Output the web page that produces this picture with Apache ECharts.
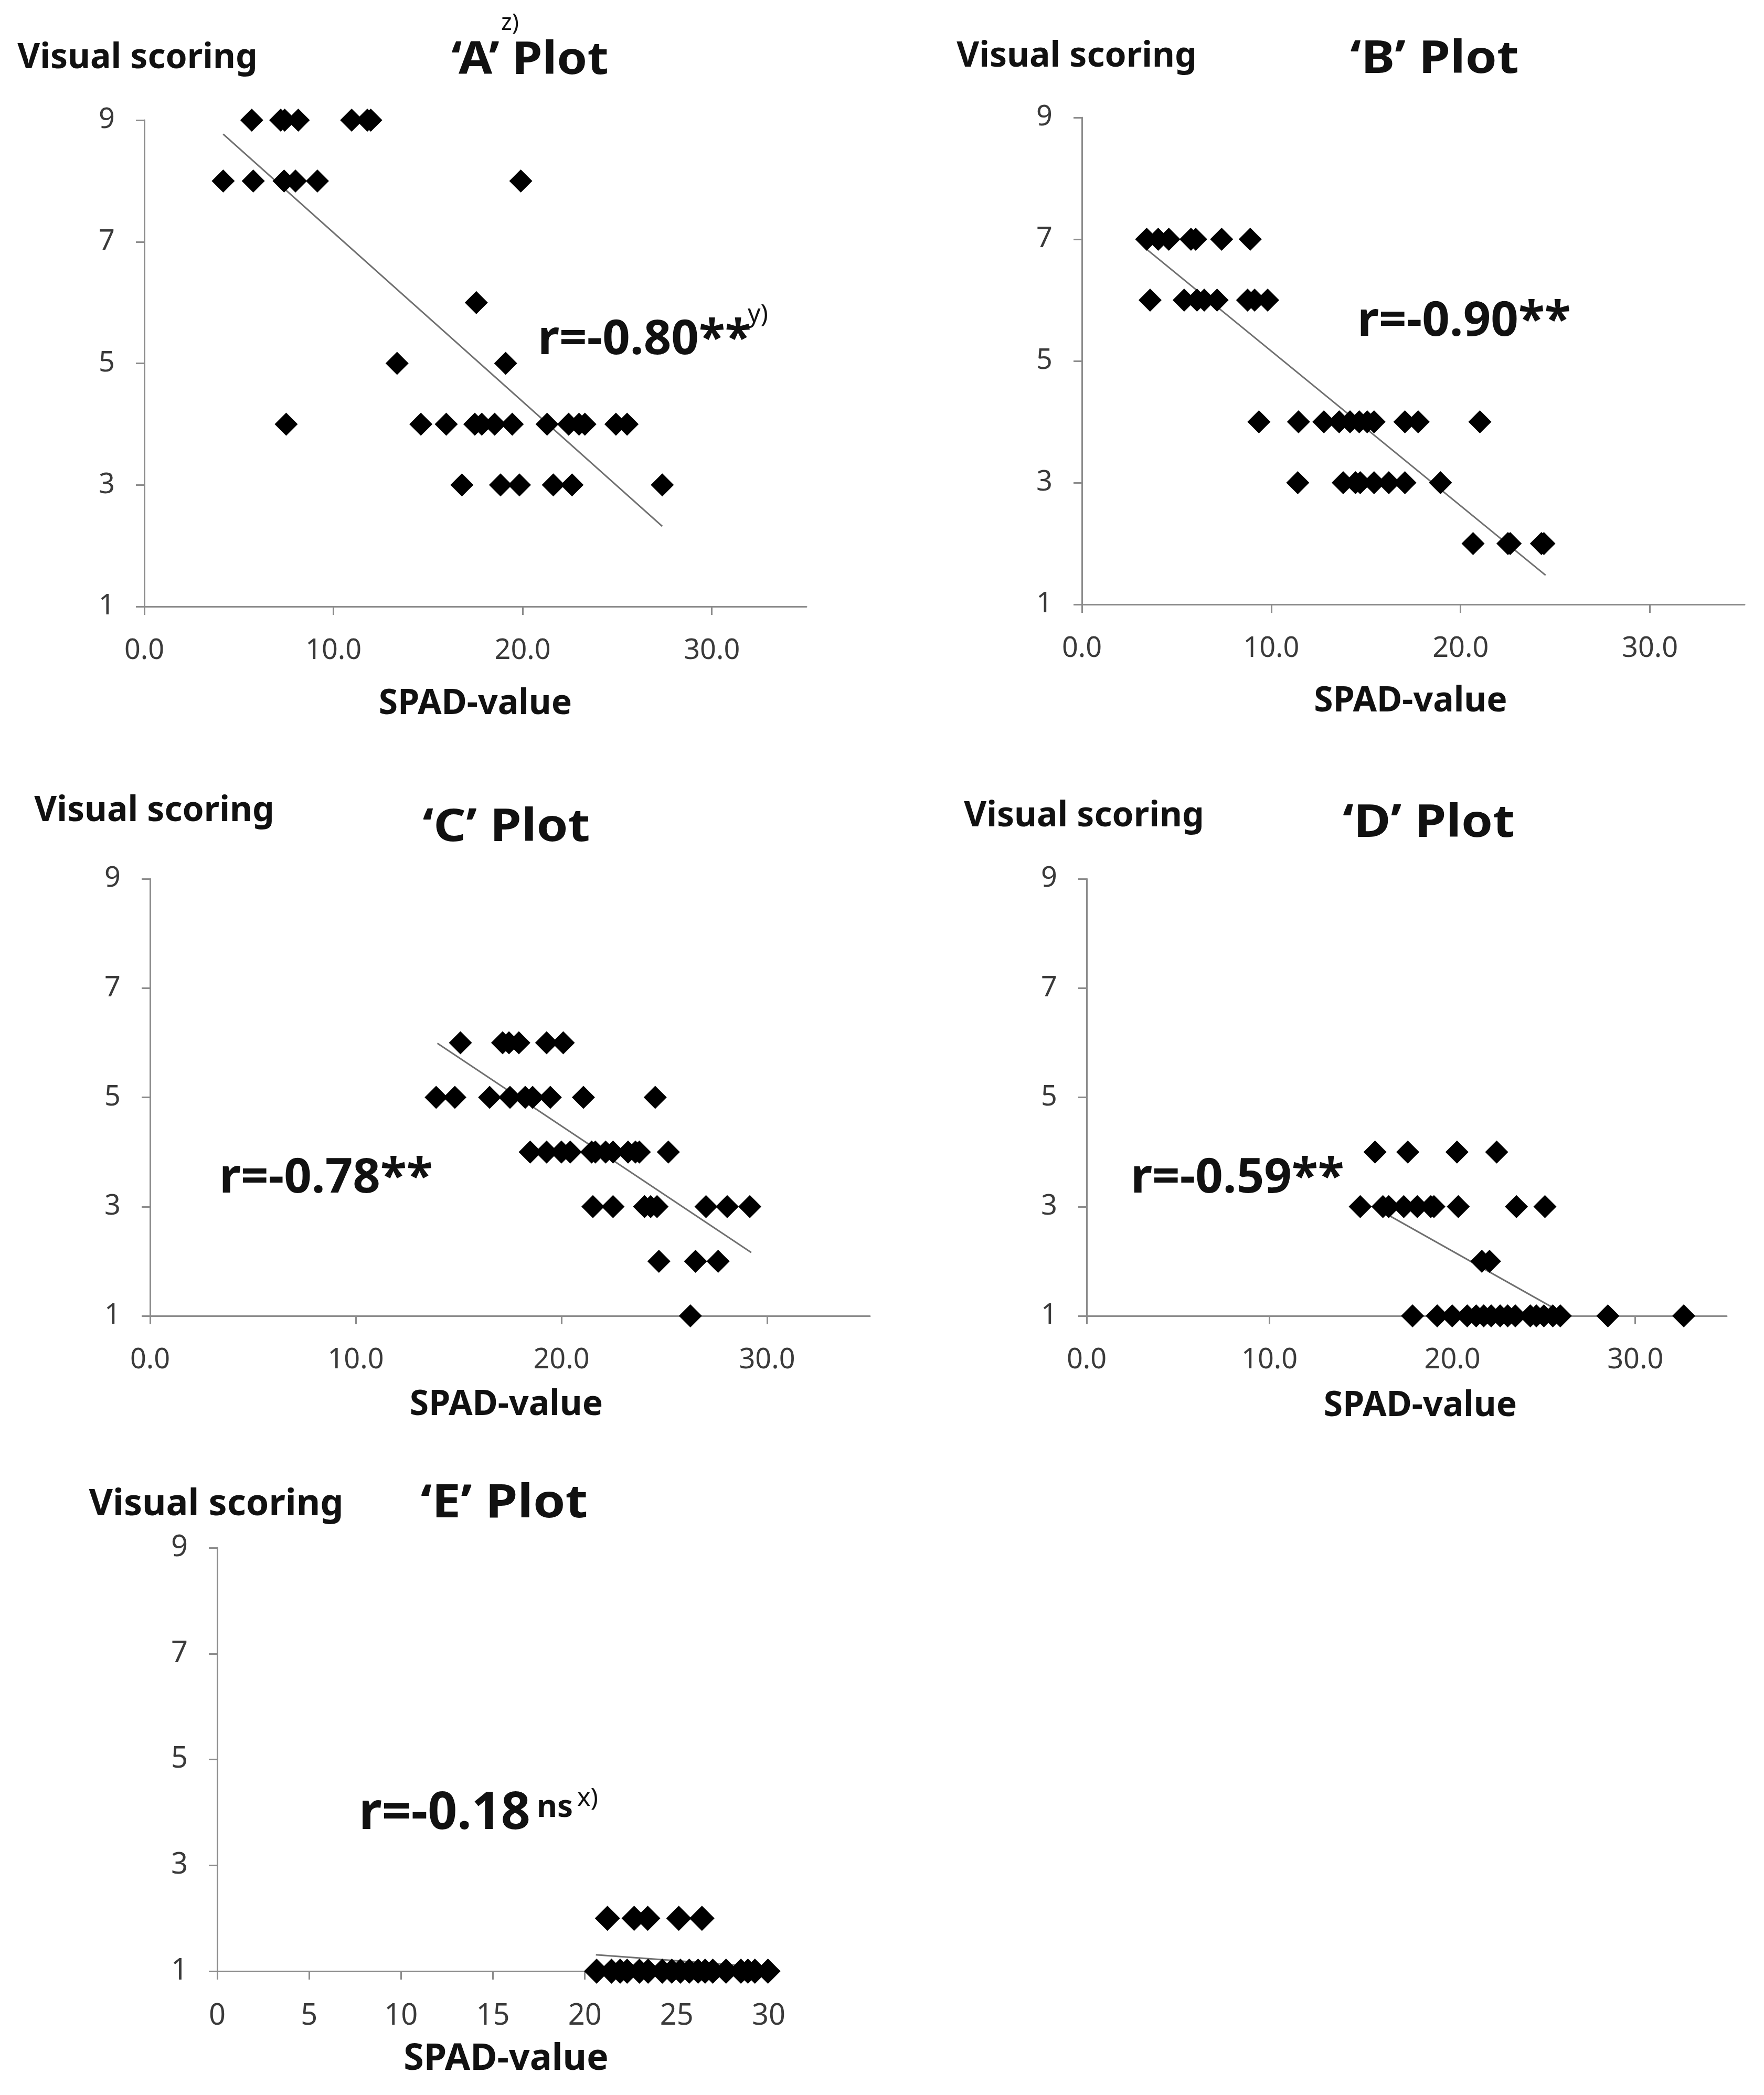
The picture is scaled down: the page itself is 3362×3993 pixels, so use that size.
<!DOCTYPE html>
<html>
<head>
<meta charset="utf-8">
<script src="https://cdn.jsdelivr.net/npm/echarts@6/dist/echarts.min.js"></script>
<style>
html,body{margin:0;padding:0;background:#ffffff;}
#chart{width:3362px;height:3993px;}
</style>
</head>
<body>
<div id="chart"></div>
<script>
// ---------------- DATA ----------------
const spadA  = [5.68,7.21,7.42,8.14,10.96,11.79,11.97,
                4.17,5.76,7.39,7.99,9.15,19.90,
                17.55,
                13.36,19.10,
                7.50,14.62,15.96,17.47,17.84,18.52,19.45,21.29,22.43,22.98,23.29,24.93,25.52,
                16.79,18.83,19.83,21.62,22.61,27.38];
const scoreA = [9,9,9,9,9,9,9,
                8,8,8,8,8,8,
                6,
                5,5,
                4,4,4,4,4,4,4,4,4,4,4,4,4,
                3,3,3,3,3,3];
const trendA_x = [4.17, 27.38];
const trendA_y = [8.77, 2.32];

const spadB  = [3.42,4.03,4.59,5.76,6.01,7.38,8.89,
                3.60,5.40,6.08,6.46,7.14,8.75,9.12,9.81,
                9.35,11.44,12.78,13.59,14.16,14.65,15.07,15.43,17.06,17.76,21.02,
                11.40,13.80,14.45,14.70,15.43,16.21,17.06,18.94,
                20.66,22.50,22.62,24.27,24.40];
const scoreB = [7,7,7,7,7,7,7,
                6,6,6,6,6,6,6,6,
                4,4,4,4,4,4,4,4,4,4,4,
                3,3,3,3,3,3,3,3,
                2,2,2,2,2];
const trendB_x = [3.36, 24.49];
const trendB_y = [6.85, 1.48];

const spadC  = [15.09,17.14,17.45,17.93,19.28,20.09,
                13.91,14.82,16.51,17.50,18.24,18.60,19.46,21.07,24.56,
                18.48,19.28,20.00,20.43,21.47,21.65,22.15,22.51,23.24,23.60,23.79,25.20,
                21.53,22.51,24.04,24.34,24.65,27.03,28.06,29.16,
                24.74,26.52,27.62,
                26.27];
const scoreC = [6,6,6,6,6,6,
                5,5,5,5,5,5,5,5,5,
                4,4,4,4,4,4,4,4,4,4,4,4,
                3,3,3,3,3,3,3,3,
                2,2,2,
                1];
const trendC_x = [13.97, 29.23];
const trendC_y = [5.99, 2.16];

const spadD  = [15.77,17.56,20.25,22.42,
                14.96,16.20,16.52,17.34,18.08,18.82,18.99,20.32,23.50,25.06,
                21.61,22.03,
                17.82,19.17,19.99,20.81,21.30,21.71,22.12,22.61,23.02,23.44,24.26,24.59,25.00,25.49,25.90,28.50,32.65];
const scoreD = [4,4,4,4,
                3,3,3,3,3,3,3,3,3,3,
                2,2,
                1,1,1,1,1,1,1,1,1,1,1,1,1,1,1,1,1];
const trendD_x = [16.52, 25.50];
const trendD_y = [2.84, 1.15];

const spadE  = [21.23,22.68,23.42,25.11,26.37,
                20.64,21.45,21.92,22.30,22.97,23.44,24.21,24.73,25.20,25.68,26.16,26.54,26.96,27.68,28.49,28.87,29.25,29.96];
const scoreE = [2,2,2,2,2,
                1,1,1,1,1,1,1,1,1,1,1,1,1,1,1,1,1,1];
const trendE_x = [20.60, 29.96];
const trendE_y = [1.31, 1.07];

const yTicks   = [1,3,5,7,9];
const xTicks   = [0,10,20,30];
const xTicksE  = [0,5,10,15,20,25,30];

const plotTitles = ['\u2018A\u2019 Plot','\u2018B\u2019 Plot','\u2018C\u2019 Plot','\u2018D\u2019 Plot','\u2018E\u2019 Plot'];
const rTexts     = ['r=-0.80**','r=-0.90**','r=-0.78**','r=-0.59**','r=-0.18'];
const yTitle = 'Visual scoring';
const xTitle = 'SPAD-value';

// ---------------- LAYOUT / STYLE ----------------
const FONT = "'Noto Sans','Open Sans',sans-serif";
const AXIS_COLOR = '#8c8c8c';
const LABEL_COLOR = '#3a3a3a';

const panels = [
  {xs:spadA, ys:scoreA, tx:trendA_x, ty:trendA_y, grid:{left:275,top:229,width:1262,height:927},
   xMax:35, xT:xTicks, dec:1, yGap:118, yShift:-13, xGap:186, xShift:0, lab:54, nameSize:66, sym:44},
  {xs:spadB, ys:scoreB, tx:trendB_x, ty:trendB_y, grid:{left:2062,top:224,width:1263,height:928},
   xMax:35, xT:xTicks, dec:1, yGap:116, yShift:-10, xGap:185, xShift:-5, lab:54, nameSize:66, sym:44},
  {xs:spadC, ys:scoreC, tx:trendC_x, ty:trendC_y, grid:{left:286,top:1675,width:1372,height:833},
   xMax:35, xT:xTicks, dec:1, yGap:129, yShift:8, xGap:170, xShift:-7, lab:54, nameSize:66, sym:44},
  {xs:spadD, ys:scoreD, tx:trendD_x, ty:trendD_y, grid:{left:2071,top:1675,width:1220,height:833},
   xMax:35, xT:xTicks, dec:1, yGap:119, yShift:-5, xGap:172, xShift:26, lab:54, nameSize:66, sym:44},
  {xs:spadE, ys:scoreE, tx:trendE_x, ty:trendE_y, grid:{left:414,top:2950,width:1051,height:807},
   xMax:30, xT:xTicksE, dec:0, yGap:82, yShift:-2, xGap:168, xShift:25, lab:56, nameSize:70, sym:48}
];

function shiftPad(s){ return s >= 0 ? [0,0,0,2*s] : [0,-2*s,0,0]; }

const grid = [], xAxis = [], yAxis = [], series = [];
panels.forEach((p, i) => {
  grid.push(Object.assign({containLabel:false, outerBoundsMode:'none'}, p.grid));
  xAxis.push({
    gridIndex:i, type:'value', min:0, max:p.xMax, interval:p.xT[1]-p.xT[0],
    splitLine:{show:false},
    axisLine:{show:true, onZero:false, lineStyle:{color:AXIS_COLOR, width:3}},
    axisTick:{show:true, inside:false, length:16, customValues:p.xT, lineStyle:{color:AXIS_COLOR, width:3}},
    axisLabel:{show:true, customValues:p.xT, margin:58, fontSize:p.lab, color:LABEL_COLOR, fontFamily:FONT,
               formatter:(v)=>Number(v).toFixed(p.dec)},
    name:xTitle, nameLocation:'middle', nameGap:p.xGap, nameMoveOverlap:false,
    nameTextStyle:{fontSize:p.nameSize, fontWeight:'bold', color:'#111', fontFamily:FONT, verticalAlign:'middle', align:'center', padding:shiftPad(p.xShift)}
  });
  yAxis.push({
    gridIndex:i, type:'value', min:1, max:9, interval:2,
    splitLine:{show:false},
    axisLine:{show:true, onZero:false, lineStyle:{color:AXIS_COLOR, width:3}},
    axisTick:{show:true, inside:false, length:16, customValues:yTicks, lineStyle:{color:AXIS_COLOR, width:3}},
    axisLabel:{show:true, customValues:yTicks, margin:56, fontSize:p.lab, color:LABEL_COLOR, fontFamily:FONT},
    name:yTitle, nameLocation:'end', nameGap:p.yGap, nameMoveOverlap:false,
    nameTextStyle:{fontSize:p.nameSize, fontWeight:'bold', color:'#111', fontFamily:FONT, verticalAlign:'middle', align:'center', padding:shiftPad(p.yShift)}
  });
  series.push({
    type:'line', xAxisIndex:i, yAxisIndex:i, z:1,
    data:p.tx.map((x,k)=>[x, p.ty[k]]),
    showSymbol:false, symbol:'none', silent:true,
    lineStyle:{color:'#707070', width:3}
  });
  series.push({
    type:'scatter', xAxisIndex:i, yAxisIndex:i, z:3,
    data:p.xs.map((x,k)=>[x, p.ys[k]]),
    symbol:'diamond', symbolSize:[p.sym, p.sym],
    itemStyle:{color:'#000000', opacity:1}
  });
});

// annotation texts (positions in px)
function txt(text, x, y, size, bold, align, sx){
  return {type:'text', x:x, y:y, z:10, silent:true, scaleX:sx||1,
          style:{text:text, fontSize:size, fontWeight:bold?'bold':'normal', fontFamily:FONT,
                 fill:'#111', align:align||'left', verticalAlign:'middle'}};
}
const graphicEls = [
  txt(plotTitles[0], 1010, 116, 86, true, 'center', 1.08),
  txt(plotTitles[1], 2734, 114, 86, true, 'center', 1.12),
  txt(plotTitles[2], 965, 1578, 86, true, 'center', 1.12),
  txt(plotTitles[3], 2723, 1570, 86, true, 'center', 1.12),
  txt(plotTitles[4], 961, 2867, 88, true, 'center', 1.12),
  txt('z)', 972, 44, 44, false, 'center'),
  txt(rTexts[0], 1025, 649, 92, true),
  txt('y)', 1425, 600, 48, false),
  txt(rTexts[1], 2587, 614, 92, true),
  txt(rTexts[2], 418, 2247, 92, true),
  txt(rTexts[3], 2155, 2247, 92, true),
  txt(rTexts[4], 684, 3458, 98, true),
  txt('ns', 1023, 3446, 60, true),
  txt('x)', 1100, 3428, 48, false)
];

const chart = echarts.init(document.getElementById('chart'), null, {renderer:'canvas', width:3362, height:3993});
chart.setOption({
  backgroundColor:'#ffffff',
  animation:false,
  grid:grid, xAxis:xAxis, yAxis:yAxis, series:series,
  graphic:{elements:graphicEls}
});
</script>
</body>
</html>
